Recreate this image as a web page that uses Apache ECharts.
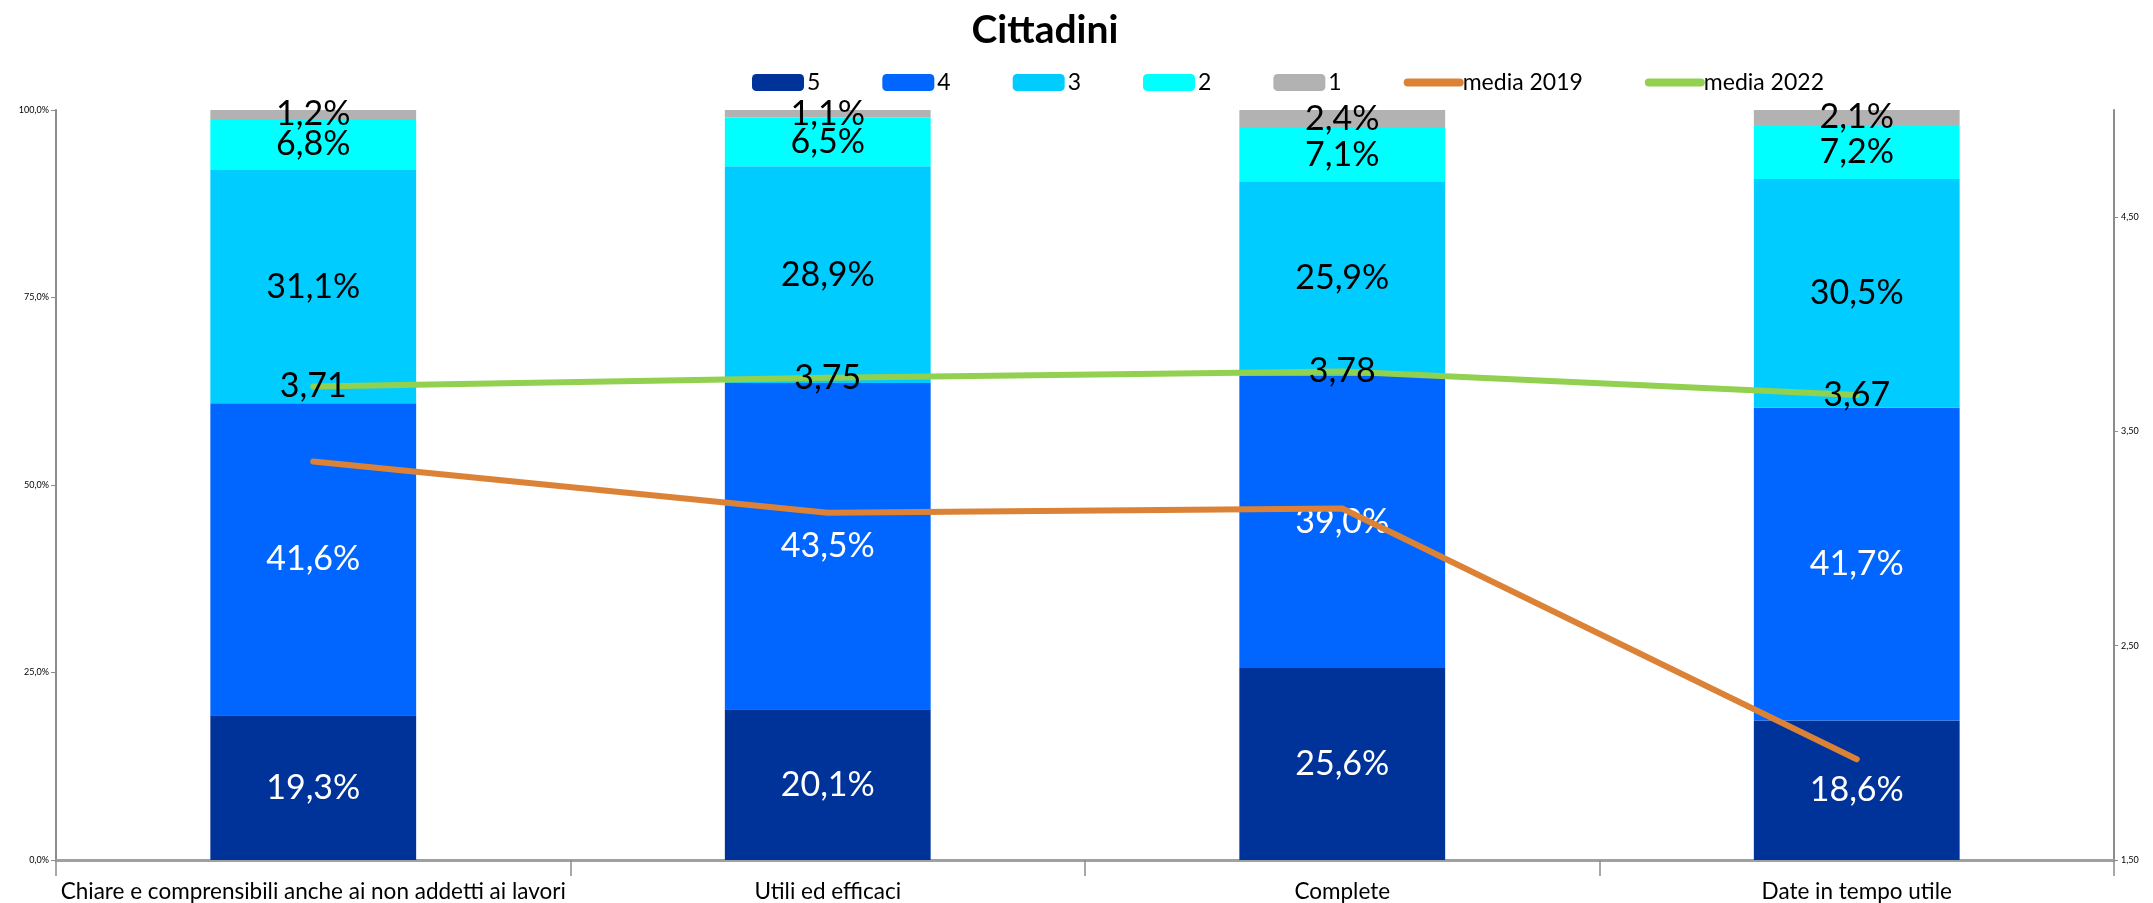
<!DOCTYPE html>
<html>
<head>
<meta charset="utf-8">
<title>Cittadini</title>
<script src="https://cdn.jsdelivr.net/npm/echarts@6/dist/echarts.min.js"></script>
<style>
  html, body { margin: 0; padding: 0; background: #ffffff; }
  #chart { width: 2153px; height: 903px; }
</style>
</head>
<body>
<div id="chart"></div>
<script>
// Categories of the survey questions
const categories = [
  'Chiare e comprensibili anche ai non addetti ai lavori',
  'Utili ed efficaci',
  'Complete',
  'Date in tempo utile'
];

// Share of answers per score (percent)
const score5 = [19.3, 20.1, 25.6, 18.6];
const score4 = [41.6, 43.5, 39.0, 41.7];
const score3 = [31.1, 28.9, 25.9, 30.5];
const score2 = [6.8, 6.5, 7.1, 7.2];
const score1 = [1.2, 1.1, 2.4, 2.1];

// Average score per year
const media2019 = [3.36, 3.12, 3.14, 1.97];
const media2022 = [3.71, 3.75, 3.78, 3.67];

// Tick labels
const leftTicks = [0, 25, 50, 75, 100];
const rightTicks = [1.5, 2.5, 3.5, 4.5];

const FONT = 'Lato, "Noto Sans", sans-serif';
const comma = (v, d) => v.toFixed(d).replace('.', ',');

function barSeries(name, data, color, labelColor) {
  return {
    name: name,
    type: 'bar',
    stack: 'score',
    data: data,
    barWidth: '40%',
    itemStyle: { color: color },
    label: {
      show: true,
      position: 'inside',
      color: labelColor,
      fontFamily: FONT,
      fontSize: 34,
      formatter: p => comma(p.value, 1) + '%'
    },
    emphasis: { disabled: true }
  };
}

function lineSeries(name, data, color, showLabel) {
  return {
    name: name,
    type: 'line',
    yAxisIndex: 1,
    data: data,
    symbol: 'circle',
    symbolSize: 1,
    itemStyle: { color: color },
    lineStyle: { color: color, width: 6, cap: 'round', join: 'round' },
    label: {
      show: showLabel,
      position: 'inside',
      color: '#000000',
      fontFamily: FONT,
      fontSize: 34,
      formatter: p => comma(p.value, 2)
    },
    z: 5,
    emphasis: { disabled: true }
  };
}

const chart = echarts.init(document.getElementById('chart'), null, { renderer: 'canvas' });

chart.setOption({
  animation: false,
  backgroundColor: '#ffffff',
  title: {
    text: 'Cittadini',
    left: 1040,
    textAlign: 'center',
    top: 6,
    textStyle: { fontFamily: FONT, fontWeight: 'bold', fontSize: 39, color: '#000000' }
  },
  legend: {
    left: 747,
    top: 66,
    itemWidth: 52,
    itemHeight: 17,
    itemGap: 62,
    textStyle: { fontFamily: FONT, fontSize: 23, color: '#000000', padding: [0, 0, 0, -2] },
    data: [
      { name: '5' },
      { name: '4' },
      { name: '3' },
      { name: '2' },
      { name: '1' },
      { name: 'media 2019', itemStyle: { opacity: 0 }, lineStyle: { width: 8, cap: 'round' } },
      { name: 'media 2022', itemStyle: { opacity: 0 }, lineStyle: { width: 8, cap: 'round' } }
    ]
  },
  grid: { left: 56, right: 39, top: 110, bottom: 43, containLabel: false },
  xAxis: {
    type: 'category',
    data: categories,
    axisLine: { lineStyle: { color: '#a0a0a0', width: 3 } },
    axisTick: { show: true, length: 16, lineStyle: { color: '#8c8c8c', width: 1.5 } },
    axisLabel: { fontFamily: FONT, fontSize: 22.5, color: '#000000', margin: 20, interval: 0 }
  },
  yAxis: [
    {
      type: 'value',
      min: 0,
      max: 100,
      interval: 25,
      position: 'left',
      axisLine: { show: true, lineStyle: { color: '#8c8c8c', width: 2 } },
      axisTick: { show: true, length: 5, lineStyle: { color: '#8c8c8c' }, customValues: leftTicks },
      splitLine: { show: false },
      axisLabel: {
        fontFamily: FONT, fontSize: 9, color: '#000000', margin: 7,
        customValues: leftTicks,
        formatter: v => comma(v, 1) + '%'
      }
    },
    {
      type: 'value',
      min: 1.5,
      max: 5,
      position: 'right',
      axisLine: { show: true, lineStyle: { color: '#8c8c8c', width: 2 } },
      axisTick: { show: true, length: 4, lineStyle: { color: '#8c8c8c' }, customValues: rightTicks },
      splitLine: { show: false },
      axisLabel: {
        fontFamily: FONT, fontSize: 9, color: '#000000', margin: 7,
        customValues: rightTicks,
        formatter: v => comma(v, 2)
      }
    }
  ],
  series: [
    barSeries('5', score5, '#003399', '#ffffff'),
    barSeries('4', score4, '#0066ff', '#ffffff'),
    barSeries('3', score3, '#00ccff', '#000000'),
    barSeries('2', score2, '#00ffff', '#000000'),
    barSeries('1', score1, '#b2b2b2', '#000000'),
    lineSeries('media 2019', media2019, '#dc8236', false),
    lineSeries('media 2022', media2022, '#92d050', true)
  ]
});
</script>
</body>
</html>
